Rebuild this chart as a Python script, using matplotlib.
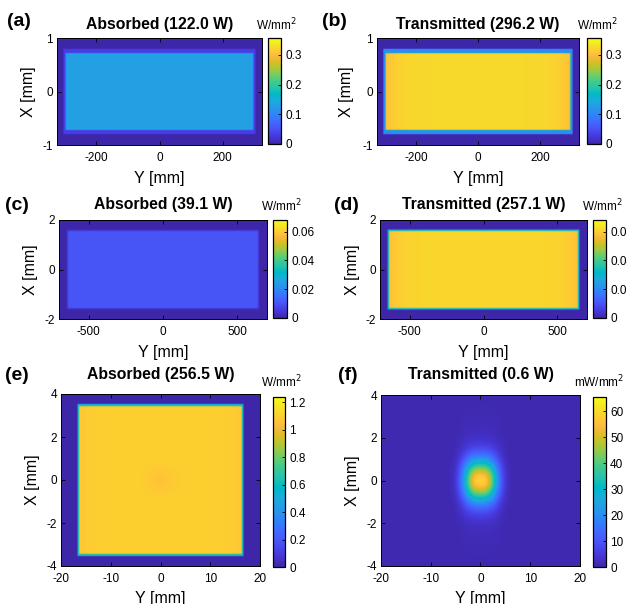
import numpy as np
import matplotlib
matplotlib.use("Agg")
import matplotlib.pyplot as plt
from matplotlib.colors import LinearSegmentedColormap

plt.rcParams['font.family'] = ['Liberation Sans', 'DejaVu Sans']
plt.rcParams['axes.unicode_minus'] = False

# MATLAB parula (64 entries)
PARULA = [
    [0.2422, 0.1504, 0.6603], [0.2504, 0.1650, 0.7076], [0.2578, 0.1818, 0.7511], [0.2647, 0.1978, 0.7952],
    [0.2706, 0.2147, 0.8364], [0.2751, 0.2342, 0.8710], [0.2783, 0.2559, 0.8991], [0.2803, 0.2782, 0.9221],
    [0.2813, 0.3006, 0.9414], [0.2810, 0.3228, 0.9579], [0.2795, 0.3447, 0.9717], [0.2760, 0.3667, 0.9829],
    [0.2699, 0.3892, 0.9906], [0.2602, 0.4123, 0.9952], [0.2440, 0.4358, 0.9988], [0.2206, 0.4603, 0.9973],
    [0.1963, 0.4847, 0.9892], [0.1834, 0.5074, 0.9798], [0.1786, 0.5289, 0.9682], [0.1764, 0.5499, 0.9520],
    [0.1687, 0.5703, 0.9359], [0.1540, 0.5902, 0.9218], [0.1460, 0.6091, 0.9079], [0.1380, 0.6276, 0.8973],
    [0.1248, 0.6459, 0.8883], [0.1113, 0.6635, 0.8763], [0.0952, 0.6798, 0.8598], [0.0689, 0.6948, 0.8394],
    [0.0297, 0.7082, 0.8163], [0.0036, 0.7203, 0.7917], [0.0067, 0.7312, 0.7660], [0.0433, 0.7411, 0.7394],
    [0.0964, 0.7500, 0.7120], [0.1408, 0.7584, 0.6842], [0.1717, 0.7670, 0.6554], [0.1938, 0.7758, 0.6251],
    [0.2161, 0.7843, 0.5923], [0.2470, 0.7918, 0.5567], [0.2906, 0.7973, 0.5188], [0.3406, 0.8008, 0.4789],
    [0.3909, 0.8029, 0.4354], [0.4456, 0.8024, 0.3909], [0.5044, 0.7993, 0.3480], [0.5616, 0.7942, 0.3045],
    [0.6174, 0.7876, 0.2612], [0.6720, 0.7793, 0.2227], [0.7242, 0.7698, 0.1910], [0.7738, 0.7598, 0.1646],
    [0.8203, 0.7498, 0.1535], [0.8634, 0.7406, 0.1596], [0.9035, 0.7330, 0.1774], [0.9393, 0.7288, 0.2100],
    [0.9728, 0.7298, 0.2394], [0.9956, 0.7434, 0.2371], [0.9970, 0.7659, 0.2199], [0.9952, 0.7893, 0.2028],
    [0.9892, 0.8136, 0.1885], [0.9786, 0.8386, 0.1766], [0.9676, 0.8639, 0.1643], [0.9610, 0.8890, 0.1537],
    [0.9597, 0.9135, 0.1423], [0.9628, 0.9373, 0.1265], [0.9691, 0.9606, 0.1064], [0.9769, 0.9839, 0.0805],
]
cmap = LinearSegmentedColormap.from_list("parula", PARULA, N=256)

# ---------------- data ----------------
panel_labels = ["(a)", "(b)", "(c)", "(d)", "(e)", "(f)"]
titles = ["Absorbed (122.0 W)", "Transmitted (296.2 W)", "Absorbed (39.1 W)",
          "Transmitted (257.1 W)", "Absorbed (256.5 W)", "Transmitted (0.6 W)"]
units = ["W/mm$^2$", "W/mm$^2$", "W/mm$^2$", "W/mm$^2$", "W/mm$^2$", "mW/mm$^2$"]

# axis limits (Y half-range, X half-range)
y_half = [325, 325, 700, 700, 20, 20]
x_half = [1, 1, 2, 2, 4, 4]
y_ticks = [[-200, 0, 200], [-200, 0, 200], [-500, 0, 500], [-500, 0, 500],
           [-20, -10, 0, 10, 20], [-20, -10, 0, 10, 20]]
x_ticks = [[-1, 0, 1], [-1, 0, 1], [-2, 0, 2], [-2, 0, 2],
           [-4, -2, 0, 2, 4], [-4, -2, 0, 2, 4]]
cbar_max = [0.357, 0.357, 0.068, 0.068, 1.24, 65.5]
cbar_ticks = [[0, 0.1, 0.2, 0.3], [0, 0.1, 0.2, 0.3], [0, 0.02, 0.04, 0.06],
              [0, 0.02, 0.04, 0.06], [0, 0.2, 0.4, 0.6, 0.8, 1, 1.2],
              [0, 10, 20, 30, 40, 50, 60]]

# rectangular beam footprints (panels a-e)
ring_y = [305, 305, 650, 650, 16.7]       # outer rim half-width in Y
ring_x = [0.80, 0.80, 1.62, 1.62, 3.55]   # outer rim half-height in X
ring_val = [0.032, 0.110, 0.0035, 0.030, 0.55]
plat_y = [298, 298, 640, 640, 16.4]
plat_x = [0.72, 0.72, 1.56, 1.56, 3.45]
plat_val = [0.130, 0.325, 0.0105, 0.0615, 1.10]
centre_dip = [0.0, 0.0, 0.0, 0.0, -0.04]
edge_drop = [0.0, -0.025, 0.0, -0.004, -0.03]

# transmitted spot (panel f)
spot_peak = 55.0
spot_y_width = 3.4
spot_x_width = 1.0
halo_peak = 3.0
halo_y_width = 4.2
halo_x_width = 2.2
background_f = 0.8

# ---------------- figure ----------------
W, H = 627, 604
fig = plt.figure(figsize=(W / 100, H / 100), dpi=100)


def px_axes(l, t, r, b):
    return fig.add_axes([l / W, 1 - b / H, (r - l) / W, (b - t) / H])


ax_px = [(57, 38, 262, 145), (377, 38, 579, 145),
         (59, 220, 267, 319), (380, 220, 587, 319),
         (61, 394, 260, 566), (381, 395, 580, 566)]
cb_px = [(268, 38, 281, 144), (587, 38, 601, 144),
         (273, 220, 287, 318), (593, 220, 606, 318),
         (273, 397, 285, 567), (593, 397, 606, 567)]
label_px = [(7, 22), (322, 22), (5, 205), (334, 205), (5, 376), (338, 376)]
unit_px = [(276, 25), (597, 25), (281, 206), (602, 206), (281, 382), (599, 382)]
title_y = [24, 24, 205, 205, 374, 374]
xlabel_y = [178, 178, 352, 352, 598, 598]
ylabel_x = [28, 347, 31, 352, 33, 353]


def smooth_box(Y, X, hy, hx, soft_y, soft_x):
    sy = np.clip((hy - np.abs(Y)) / soft_y + 0.5, 0, 1)
    sx = np.clip((hx - np.abs(X)) / soft_x + 0.5, 0, 1)
    return sy * sx


for i in range(6):
    ax = px_axes(*ax_px[i])
    ny, nx = 500, 300
    yv = np.linspace(-y_half[i], y_half[i], ny)
    xv = np.linspace(-x_half[i], x_half[i], nx)
    Y, X = np.meshgrid(yv, xv)
    if i < 5:
        sy = 2 * y_half[i] / ny
        sx = 2 * x_half[i] / nx
        outer = smooth_box(Y, X, ring_y[i], ring_x[i], 1.5 * sy, 1.5 * sx)
        inner = smooth_box(Y, X, plat_y[i], plat_x[i], 3 * sy, 3 * sx)
        r2 = (Y / y_half[i]) ** 2 + (X / x_half[i]) ** 2
        plate = plat_val[i] + centre_dip[i] * np.exp(-r2 / 0.02) \
            + edge_drop[i] * (np.abs(Y) / plat_y[i]) ** 8
        Z = outer * ring_val[i] + inner * (plate - ring_val[i])
    else:
        Z = background_f + spot_peak * np.exp(-(np.abs(Y) / spot_y_width) ** 2.6) \
            * np.exp(-(X / spot_x_width) ** 2) \
            + halo_peak * np.exp(-(np.abs(Y) / halo_y_width) ** 4) * np.exp(-(X / halo_x_width) ** 2)
    im = ax.imshow(Z, origin='lower', cmap=cmap, vmin=0, vmax=cbar_max[i],
                   extent=[-y_half[i], y_half[i], -x_half[i], x_half[i]],
                   aspect='auto', interpolation='bilinear')
    ax.set_xlim(-y_half[i], y_half[i])
    ax.set_ylim(-x_half[i], x_half[i])
    ax.set_xticks(y_ticks[i])
    ax.set_yticks(x_ticks[i])
    ax.tick_params(direction='in', top=True, right=True, length=3, width=0.6,
                   labelsize=8.5, pad=3)
    ax.tick_params(axis='x', pad=5)
    for s in ax.spines.values():
        s.set_linewidth(0.7)
    ax.set_xlabel("Y [mm]", fontsize=11.5)
    ax.set_ylabel("X [mm]", fontsize=11.5)
    l, t, r, b = ax_px[i]
    ax.xaxis.set_label_coords(((l + r) / 2) / W, 1 - xlabel_y[i] / H, transform=fig.transFigure)
    ax.xaxis.label.set_va('center')
    ax.yaxis.set_label_coords(ylabel_x[i] / W, 1 - ((t + b) / 2) / H, transform=fig.transFigure)
    ax.yaxis.label.set_va('center')
    fig.text((l + r) / 2 / W, 1 - title_y[i] / H, titles[i], ha='center', va='center',
             fontsize=11.3, fontweight='bold')
    fig.text(label_px[i][0] / W, 1 - label_px[i][1] / H, panel_labels[i], ha='left', va='center',
             fontsize=14, fontweight='bold')
    fig.text(unit_px[i][0] / W, 1 - unit_px[i][1] / H, units[i], ha='center', va='center',
             fontsize=8.5)

    cax = px_axes(*cb_px[i])
    cb = fig.colorbar(im, cax=cax)
    cb.set_ticks(cbar_ticks[i])
    cb.set_ticklabels([f"{v:g}" for v in cbar_ticks[i]])
    cax.tick_params(direction='in', length=2.5, width=0.6, labelsize=8.5, pad=3)
    cb.outline.set_linewidth(0.9)

fig.savefig("out.png", dpi=100)
